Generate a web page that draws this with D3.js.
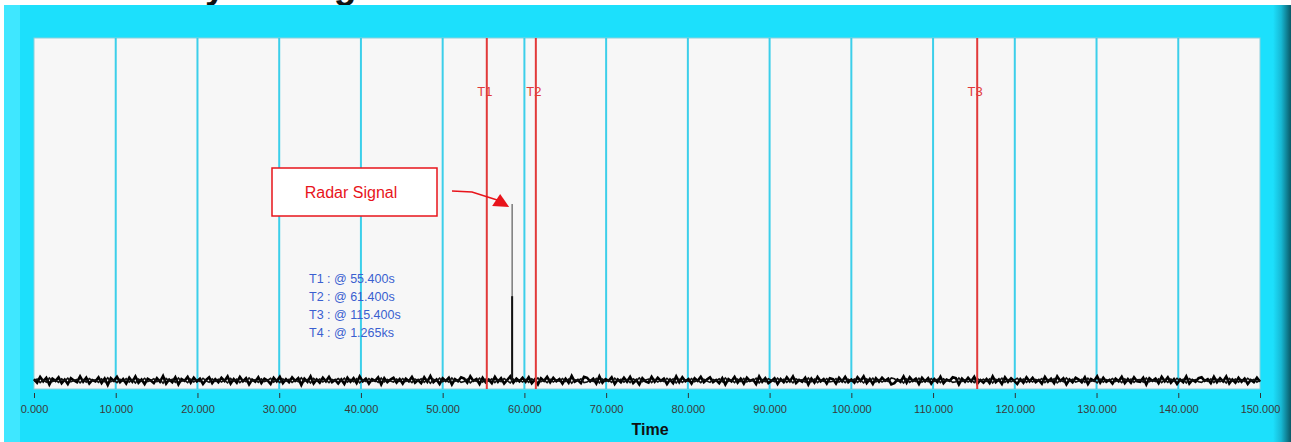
<!DOCTYPE html>
<html><head><meta charset="utf-8">
<script src="https://cdn.jsdelivr.net/npm/d3@7"></script>
<style>html,body{margin:0;padding:0;background:#fff;}svg{display:block;}</style>
</head><body>
<svg id="c" width="1291" height="442"></svg>
<script>
// ---- data ----
const xTicks = [0,10,20,30,40,50,60,70,80,90,100,110,120,130,140,150];
const cursorNames = ["T1","T2","T3"];
const cursorTimes = [55.4, 61.4, 115.4];
const legendLines = ["T1 : @ 55.400s","T2 : @ 61.400s","T3 : @ 115.400s","T4 : @ 1.265ks"];
const spikeTime = [58.5];
const spikePeak = [0.515];
const spikeCore = [0.246];
// baseline noise (thousandths), 400 samples spanning 0..150 s
const noise = [
3,-5,8,-2,6,-9,4,-1,7,-6,2,-8,5,0,-4,9,-3,6,-7,1,
-2,7,-6,4,-10,5,-1,8,-4,3,-7,6,-3,9,-5,2,-8,4,0,-6,
5,-3,10,-7,2,-4,7,-9,3,-1,8,-5,6,-2,4,-8,1,7,-6,3,
-4,6,-1,9,-7,3,-5,8,-2,5,-9,2,-3,7,-6,4,0,-8,6,-2,
8,-6,3,-4,7,-1,5,-10,4,-3,9,-7,2,-5,6,-2,8,-4,1,-7,
2,-8,6,-3,5,-6,9,-2,4,-7,3,-1,7,-9,5,-4,2,6,-5,3,
-7,4,-2,8,-5,1,-6,7,-3,10,-4,2,-8,5,-1,6,-9,3,-2,7,
4,-5,9,-1,3,-8,6,-4,2,-6,8,-3,5,-7,1,9,-5,4,-2,6,
-3,7,-6,2,-9,5,-1,8,-4,6,-2,3,-7,4,-5,10,-3,1,-6,8,
6,-2,4,-7,9,-5,3,-1,7,-8,2,-4,6,-3,8,-6,1,-9,5,-2,
-5,8,-3,6,-1,4,-8,2,-6,9,-4,7,-2,3,-7,5,-1,8,-4,2,
7,-4,1,-6,5,-9,3,-2,8,-5,4,-7,6,-1,2,-8,9,-3,5,-6,
-1,5,-8,3,-4,7,-2,9,-6,1,-3,6,-9,4,-5,8,-2,3,-7,5,
3,-7,6,-2,8,-4,2,-5,7,-1,9,-6,3,-8,5,-3,6,-1,4,-9,
-6,2,-3,9,-5,7,-1,4,-8,6,-2,5,-7,3,-4,8,-6,2,-1,7,
5,-9,4,-3,6,-2,8,-7,1,-5,3,-6,9,-4,2,-8,7,-3,5,-1,
-8,3,-5,7,-2,6,-4,1,-7,8,-3,4,-6,9,-1,5,-9,2,-4,6,
2,-4,7,-8,3,-1,9,-5,6,-3,1,-7,4,-2,8,-6,3,-5,7,-2,
-3,6,-9,5,-1,4,-6,8,-2,7,-5,3,-8,2,-4,9,-7,1,-3,5,
7,-1,3,-6,8,-4,5,-2,9,-7,2,-5,6,-3,4,-8,1,-4,6,-3
];
const titleText = "Activity Timing";
const annotationText = "Radar Signal";
const xLabel = "Time";

// ---- drawing ----
const svg = d3.select("#c");
const W = 1291, H = 442;
const plot = {l:34, r:1260, t:38, b:389};
const FONT = "Arial, 'Liberation Sans', sans-serif";

const defs = svg.append("defs");
const gr = defs.append("linearGradient").attr("id","rightEdge").attr("x1","0").attr("x2","1");
gr.append("stop").attr("offset","0").attr("stop-color","#1de0fc");
gr.append("stop").attr("offset","0.45").attr("stop-color","#17b9d4");
gr.append("stop").attr("offset","1").attr("stop-color","#0a5866");

// title (cut off at the top, as in the original screenshot)
const title = svg.append("text").attr("y",-2).attr("font-family",FONT)
  .attr("font-size",37).attr("font-weight","bold").attr("fill","#111").text(titleText);
const tmp = svg.append("text").attr("font-family",FONT).attr("font-size",37).attr("font-weight","bold").text("Activit");
const pre = tmp.node().getComputedTextLength(); tmp.remove();
title.attr("x", 205 - pre);

// cyan panel
svg.append("rect").attr("x",4).attr("y",5).attr("width",W-4).attr("height",H-5).attr("fill","#1ce0fc");
svg.append("rect").attr("x",4).attr("y",5).attr("width",16).attr("height",H-5).attr("fill","#3fe7ff");
svg.append("rect").attr("x",1273).attr("y",5).attr("width",18).attr("height",H-5).attr("fill","url(#rightEdge)");

// plot background
svg.append("rect").attr("x",plot.l).attr("y",plot.t).attr("width",plot.r-plot.l).attr("height",plot.b-plot.t)
  .attr("fill","#f7f7f7").attr("stroke","#8ccfdc").attr("stroke-width",1);

const x = d3.scaleLinear().domain([0,150]).range([plot.l, plot.r]);
const y = d3.scaleLinear().domain([-0.025, 1]).range([plot.b, plot.t]);

// grid lines
svg.append("g").selectAll("line").data(xTicks.filter(d=>d>0 && d<150)).join("line")
  .attr("x1",d=>x(d)).attr("x2",d=>x(d)).attr("y1",plot.t).attr("y2",plot.b)
  .attr("stroke","#3ccfea").attr("stroke-width",2);

// axis
const axis = d3.axisBottom(x).tickValues(xTicks).tickFormat(d3.format(".3f")).tickSize(5).tickPadding(7);
const ag = svg.append("g").attr("transform",`translate(0,${plot.b+4})`).call(axis);
ag.select(".domain").remove();
ag.selectAll(".tick line").attr("stroke","#333");
ag.selectAll(".tick text").attr("font-family",FONT).attr("font-size",11).attr("fill","#3a3a3a");

svg.append("text").attr("x",650).attr("y",435).attr("text-anchor","middle")
  .attr("font-family",FONT).attr("font-size",16).attr("font-weight","bold").attr("fill","#111").text(xLabel);

// noise trace
const step = 150/(noise.length-1);
const line = d3.line().x((d,i)=>x(i*step)).y(d=>y(d/1000));
svg.append("path").datum(noise.map(v=>v*1.3)).attr("d",line).attr("fill","none").attr("stroke","#000").attr("stroke-width",2.6);
svg.append("path").datum(noise.map(v=>-v*0.8)).attr("d",line).attr("fill","none").attr("stroke","#111").attr("stroke-width",1.6);

// spike
svg.append("g").selectAll("line").data(spikeTime).join("line")
  .attr("x1",d=>x(d)).attr("x2",d=>x(d)).attr("y1",y(0)).attr("y2",(d,i)=>y(spikePeak[i]))
  .attr("stroke","#666").attr("stroke-width",1.3);
svg.append("g").selectAll("line").data(spikeTime).join("line")
  .attr("x1",d=>x(d)).attr("x2",d=>x(d)).attr("y1",y(0)).attr("y2",(d,i)=>y(spikeCore[i]))
  .attr("stroke","#111").attr("stroke-width",2);

// cursors
const cg = svg.append("g");
cg.selectAll("line").data(cursorTimes).join("line")
  .attr("x1",d=>x(d)).attr("x2",d=>x(d)).attr("y1",plot.t).attr("y2",plot.b)
  .attr("stroke","#e23a3a").attr("stroke-width",2);
cg.selectAll("text").data(cursorTimes).join("text")
  .attr("x",d=>x(d)-2).attr("y",96).attr("text-anchor","middle")
  .attr("font-family",FONT).attr("font-size",13).attr("fill","#e23a3a")
  .text((d,i)=>cursorNames[i]);

// legend text
svg.append("g").selectAll("text").data(legendLines).join("text")
  .attr("x",309).attr("y",(d,i)=>283+i*18)
  .attr("font-family",FONT).attr("font-size",12.5).attr("fill","#3a5fd0")
  .text(d=>d);

// annotation
svg.append("rect").attr("x",272).attr("y",168).attr("width",165).attr("height",48)
  .attr("fill","#fff").attr("stroke","#e8141b").attr("stroke-width",1.5);
svg.append("text").attr("x",351).attr("y",198).attr("text-anchor","middle")
  .attr("font-family",FONT).attr("font-size",16).attr("fill","#e8141b").text(annotationText);
const tipX = x(spikeTime[0]) - 3, tipY = y(spikePeak[0]) + 3;
svg.append("path").attr("d",`M452,191 L472,192 L${tipX-12},${tipY-7}`)
  .attr("fill","none").attr("stroke","#e8141b").attr("stroke-width",1.5);
svg.append("path").attr("d",`M${tipX},${tipY} L${tipX-17},${tipY-1} L${tipX-9},${tipY-13} Z`).attr("fill","#e8141b");
</script>
</body></html>
